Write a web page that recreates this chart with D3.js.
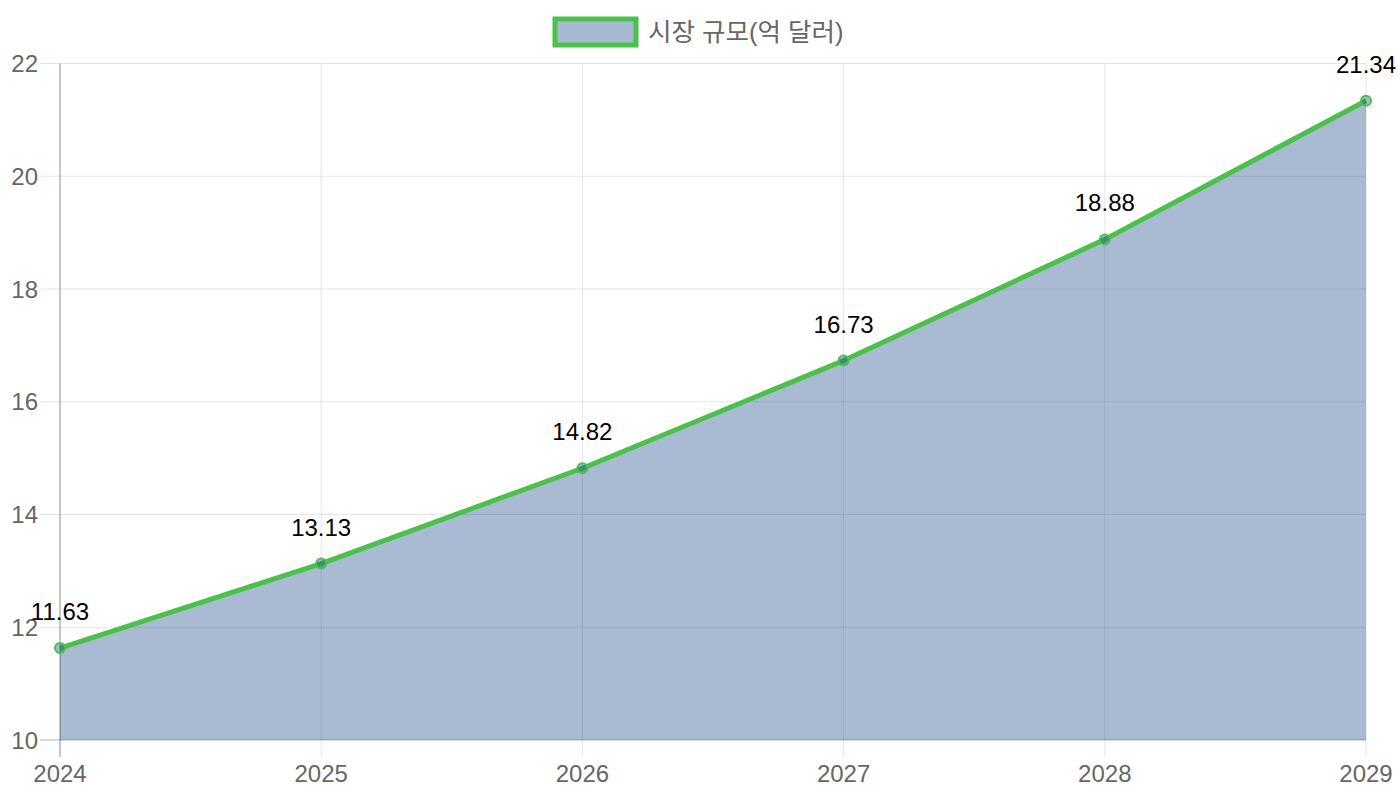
<!DOCTYPE html>
<html>
<head>
<meta charset="utf-8">
<script src="https://cdn.jsdelivr.net/npm/d3@7"></script>
<style>
  html, body { margin: 0; padding: 0; background: #fff; }
  svg { display: block; font-family: "Liberation Sans", Arial, "Noto Sans CJK KR", sans-serif; }
</style>
</head>
<body>
<div id="chart"></div>
<script>
const years = ["2024", "2025", "2026", "2027", "2028", "2029"];
const marketSize = [11.63, 13.13, 14.82, 16.73, 18.88, 21.34];
const yTicks = [10, 12, 14, 16, 18, 20, 22];
const seriesName = "시장 규모(억 달러)";

const W = 1400, H = 800;
const plot = { left: 60, right: 1366, top: 63.5, bottom: 740 };

const svg = d3.select("#chart").append("svg")
  .attr("width", W)
  .attr("height", H);

const x = d3.scalePoint()
  .domain(years)
  .range([plot.left, plot.right]);

const y = d3.scaleLinear()
  .domain([10, 22])
  .range([plot.bottom, plot.top]);

const gridColor = "rgba(0,0,0,0.1)";

// horizontal grid + ticks
svg.append("g")
  .selectAll("line")
  .data(yTicks)
  .enter().append("line")
  .attr("x1", plot.left - 20)
  .attr("x2", plot.right)
  .attr("y1", d => y(d))
  .attr("y2", d => y(d))
  .attr("stroke", gridColor)
  .attr("stroke-width", 1);

// vertical grid + ticks
svg.append("g")
  .selectAll("line")
  .data(years.slice(1))
  .enter().append("line")
  .attr("x1", d => x(d))
  .attr("x2", d => x(d))
  .attr("y1", plot.top)
  .attr("y2", plot.bottom + 17)
  .attr("stroke", gridColor)
  .attr("stroke-width", 1);

// y tick labels
svg.append("g")
  .selectAll("text")
  .data(yTicks)
  .enter().append("text")
  .attr("x", plot.left - 22)
  .attr("y", d => y(d))
  .attr("dy", "0.36em")
  .attr("text-anchor", "end")
  .attr("font-size", 24)
  .attr("fill", "#666")
  .text(d => d);

// x tick labels
svg.append("g")
  .selectAll("text")
  .data(years)
  .enter().append("text")
  .attr("x", d => x(d))
  .attr("y", 782)
  .attr("text-anchor", "middle")
  .attr("font-size", 24)
  .attr("fill", "#666")
  .text(d => d);

const pts = years.map((yr, i) => ({ year: yr, value: marketSize[i] }));

// area fill
const area = d3.area()
  .x(d => x(d.year))
  .y0(y(10))
  .y1(d => y(d.value));

svg.append("path")
  .datum(pts)
  .attr("d", area)
  .attr("fill", "rgba(30,80,140,0.39)");

// axis lines
svg.append("line")
  .attr("x1", plot.left).attr("x2", plot.left)
  .attr("y1", plot.top).attr("y2", plot.bottom + 17)
  .attr("stroke", "rgba(0,0,0,0.3)")
  .attr("stroke-width", 1.5);

svg.append("line")
  .attr("x1", plot.left - 20).attr("x2", plot.right)
  .attr("y1", plot.bottom).attr("y2", plot.bottom)
  .attr("stroke", "rgba(0,0,0,0.12)")
  .attr("stroke-width", 1.5);

// line
const line = d3.line()
  .x(d => x(d.year))
  .y(d => y(d.value));

svg.append("path")
  .datum(pts)
  .attr("d", line)
  .attr("fill", "none")
  .attr("stroke", "#4bc04b")
  .attr("stroke-width", 5)
  .attr("stroke-linejoin", "round");

// points
svg.append("g")
  .selectAll("circle")
  .data(pts)
  .enter().append("circle")
  .attr("cx", d => x(d.year))
  .attr("cy", d => y(d.value))
  .attr("r", 5)
  .attr("fill", "rgba(30,80,140,0.4)")
  .attr("stroke", "#4bc04b")
  .attr("stroke-width", 2);

// data labels
svg.append("g")
  .selectAll("text")
  .data(pts)
  .enter().append("text")
  .attr("x", d => x(d.year))
  .attr("y", d => y(d.value) - 28)
  .attr("text-anchor", "middle")
  .attr("font-size", 24)
  .attr("fill", "#000")
  .text(d => d.value.toFixed(2));

// legend
const legend = svg.append("g");
legend.append("rect")
  .attr("x", 555)
  .attr("y", 19)
  .attr("width", 81)
  .attr("height", 26)
  .attr("fill", "rgba(30,80,140,0.4)")
  .attr("stroke", "#4bc04b")
  .attr("stroke-width", 5);

legend.append("text")
  .attr("x", 648)
  .attr("y", 32)
  .attr("dy", "0.36em")
  .attr("font-size", 25.5)
  .attr("fill", "#666")
  .text(seriesName);
</script>
</body>
</html>
